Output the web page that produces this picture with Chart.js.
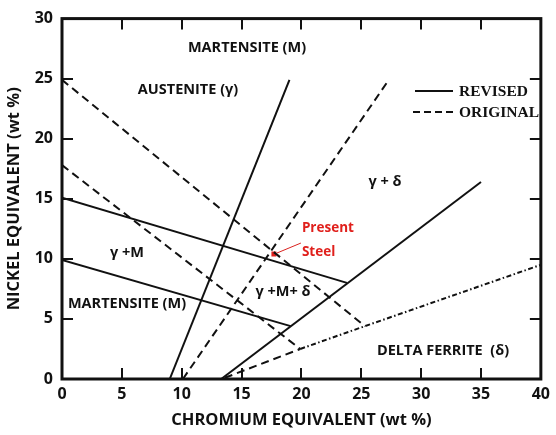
<!DOCTYPE html>
<html>
<head>
<meta charset="utf-8">
<script src="https://cdn.jsdelivr.net/npm/chart.js@4/dist/chart.umd.min.js"></script>
<style>
  html, body { margin: 0; padding: 0; background: #ffffff; }
  #wrap { width: 556px; height: 435px; }
</style>
</head>
<body>
<div id="wrap"><canvas id="chart" width="556" height="435"></canvas></div>
<script>
// Axis ticks
const chromiumTicks = [0, 5, 10, 15, 20, 25, 30, 35, 40];
const nickelTicks = [0, 5, 10, 15, 20, 25, 30];

// Revised boundaries (solid)
const revisedGammaMUpperCr = [0, 23.8];
const revisedGammaMUpperNi = [15.1, 8.0];
const revisedGammaMLowerCr = [0, 19.1];
const revisedGammaMLowerNi = [9.9, 4.4];
const revisedAusteniteCr = [9.0, 19.0];
const revisedAusteniteNi = [0, 24.9];
const revisedFerriteCr = [13.3, 35.0];
const revisedFerriteNi = [0, 16.4];

// Original boundaries (dashed)
const originalUpperCr = [0, 25.3];
const originalUpperNi = [24.9, 4.4];
const originalLowerCr = [0, 19.9];
const originalLowerNi = [17.8, 2.5];
const originalAusteniteCr = [10.1, 27.3];
const originalAusteniteNi = [0, 24.9];
const originalFerriteCr = [13.6, 19.9];
const originalFerriteNi = [0.1, 2.5];
const originalFerriteTailCr = [19.9, 25.3, 40];
const originalFerriteTailNi = [2.5, 4.4, 9.5];

// Present steel composition
const presentSteelCr = [17.7];
const presentSteelNi = [10.4];

const toPoints = (xs, ys) => xs.map((x, i) => ({ x: x, y: ys[i] }));

function boundary(xs, ys, dash) {
  return {
    data: toPoints(xs, ys),
    showLine: true,
    borderColor: '#111111',
    borderWidth: 2,
    borderDash: dash || [],
    pointRadius: 0,
    tension: 0,
    fill: false
  };
}

const SANS = '"Open Sans", "DejaVu Sans", sans-serif';
const SERIF = '"Liberation Serif", "DejaVu Serif", serif';

// Frame, inward ticks, region names, legend and the marker caption
const annotations = {
  id: 'annotations',
  afterDraw(chart) {
    const { ctx, chartArea: a, scales } = chart;
    const xs = scales.x, ys = scales.y;
    ctx.save();

    // inward tick marks on all four sides
    ctx.strokeStyle = '#111111';
    ctx.lineWidth = 2;
    const len = 11;
    chromiumTicks.slice(1, -1).forEach(v => {
      const px = Math.round(xs.getPixelForValue(v));
      ctx.beginPath();
      ctx.moveTo(px, a.bottom); ctx.lineTo(px, a.bottom - len);
      ctx.moveTo(px, a.top); ctx.lineTo(px, a.top + len);
      ctx.stroke();
    });
    nickelTicks.slice(1, -1).forEach(v => {
      const py = Math.round(ys.getPixelForValue(v));
      ctx.beginPath();
      ctx.moveTo(a.left, py); ctx.lineTo(a.left + len, py);
      ctx.moveTo(a.right, py); ctx.lineTo(a.right - len, py);
      ctx.stroke();
    });

    // frame
    ctx.lineWidth = 3;
    ctx.strokeRect(a.left, a.top, a.right - a.left, a.bottom - a.top);

    // region names
    ctx.fillStyle = '#111111';
    ctx.font = 'bold 14.5px ' + SANS;
    ctx.textAlign = 'center';
    ctx.textBaseline = 'middle';
    const regions = [
      ['MARTENSITE (M)', 247, 48],
      ['AUSTENITE (\u03b3)', 188, 90],
      ['\u03b3 + \u03b4', 385, 182],
      ['\u03b3 +M', 127, 253],
      ['MARTENSITE (M)', 127, 304],
      ['\u03b3 +M+ \u03b4', 283, 292],
      ['DELTA FERRITE  (\u03b4)', 443, 351]
    ];
    regions.forEach(([t, x, y]) => ctx.fillText(t, x, y));

    // legend
    ctx.lineWidth = 1.8;
    ctx.beginPath();
    ctx.moveTo(415, 91); ctx.lineTo(453, 91);
    ctx.stroke();
    ctx.setLineDash([7, 4]);
    ctx.beginPath();
    ctx.moveTo(413, 112); ctx.lineTo(453, 112);
    ctx.stroke();
    ctx.setLineDash([]);
    ctx.font = 'bold 15.5px ' + SERIF;
    ctx.textAlign = 'left';
    ctx.fillText('REVISED', 459, 92);
    ctx.fillText('ORIGINAL', 459, 113);

    // present steel caption with leader
    const mx = xs.getPixelForValue(presentSteelCr[0]);
    const my = ys.getPixelForValue(presentSteelNi[0]);
    ctx.strokeStyle = '#d9221f';
    ctx.lineWidth = 1;
    ctx.beginPath();
    ctx.moveTo(mx + 3, my - 1); ctx.lineTo(mx + 27, my - 11);
    ctx.stroke();
    ctx.fillStyle = '#e0201c';
    ctx.font = 'bold 13.5px ' + SANS;
    ctx.fillText('Present', mx + 28, my - 26);
    ctx.fillText('Steel', mx + 28, my - 2);

    ctx.restore();
  }
};

new Chart(document.getElementById('chart'), {
  type: 'scatter',
  data: {
    datasets: [
      boundary(revisedGammaMUpperCr, revisedGammaMUpperNi),
      boundary(revisedGammaMLowerCr, revisedGammaMLowerNi),
      boundary(revisedAusteniteCr, revisedAusteniteNi),
      boundary(revisedFerriteCr, revisedFerriteNi),
      boundary(originalUpperCr, originalUpperNi, [8, 5]),
      boundary(originalLowerCr, originalLowerNi, [8, 5]),
      boundary(originalAusteniteCr, originalAusteniteNi, [8, 5]),
      boundary(originalFerriteCr, originalFerriteNi, [8, 5]),
      boundary(originalFerriteTailCr, originalFerriteTailNi, [5, 2.5, 1.5, 2.5]),
      {
        data: toPoints(presentSteelCr, presentSteelNi),
        showLine: false,
        pointStyle: 'rect',
        pointRadius: 3.5,
        backgroundColor: '#e0201c',
        borderColor: '#e0201c',
        borderWidth: 0
      }
    ]
  },
  options: {
    responsive: false,
    animation: false,
    devicePixelRatio: 1,
    layout: { padding: { top: 14, right: 10, left: 0, bottom: 0 } },
    plugins: {
      legend: { display: false },
      tooltip: { enabled: false }
    },
    scales: {
      x: {
        type: 'linear',
        min: 0, max: 40,
        afterFit(s) { s.height = 56; },
        afterBuildTicks(s) { s.ticks = chromiumTicks.map(v => ({ value: v })); },
        grid: { display: false, drawTicks: false },
        border: { display: false },
        ticks: {
          padding: 6,
          color: '#111111',
          font: { family: SANS, weight: 'bold', size: 16 }
        },
        title: {
          display: true,
          text: 'CHROMIUM EQUIVALENT (wt %)',
          color: '#111111',
          font: { family: SANS, weight: 'bold', size: 16.5 },
          padding: { top: 0, bottom: 5 }
        }
      },
      y: {
        type: 'linear',
        min: 0, max: 30,
        afterFit(s) { s.width = 62; },
        afterBuildTicks(s) { s.ticks = nickelTicks.map(v => ({ value: v })); },
        grid: { display: false, drawTicks: false },
        border: { display: false },
        ticks: {
          padding: 9,
          color: '#111111',
          font: { family: SANS, weight: 'bold', size: 16 }
        },
        title: {
          display: true,
          text: 'NICKEL EQUIVALENT (wt %)',
          color: '#111111',
          font: { family: SANS, weight: 'bold', size: 16.5 },
          padding: { top: 4, bottom: 0 }
        }
      }
    }
  },
  plugins: [annotations]
});
</script>
</body>
</html>
